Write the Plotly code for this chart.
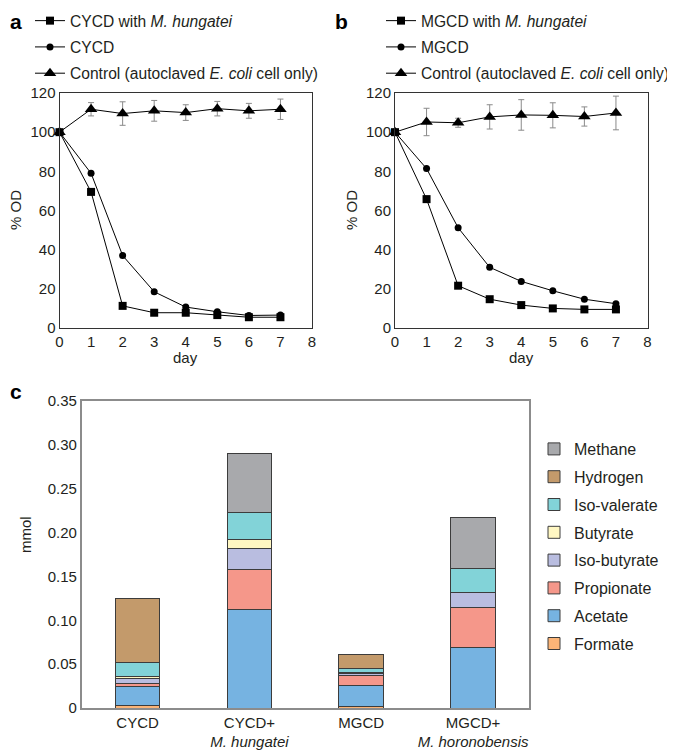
import plotly.graph_objects as go

# panel a / b : % OD over time
days = [0, 1, 2, 3, 4, 5, 6, 7]

a_square = [100, 69.5, 11.3, 7.8, 7.8, 6.6, 5.5, 5.5]
a_square_err = [0, 1.2, 0, 0, 0, 0, 0, 0]
a_circle = [100, 79, 37, 18.5, 10.7, 8.3, 6.4, 6.6]
a_triangle = [100, 111.7, 109.5, 110.9, 110, 112, 110.9, 111.7]
a_triangle_err = [0, 3.4, 6, 5.3, 4, 3.7, 3.8, 5.2]

b_square = [100, 65.8, 21.6, 14.7, 11.7, 10, 9.5, 9.5]
b_square_err = [0, 1.5, 0, 0, 0, 0, 0, 0]
b_circle = [100, 81.4, 51.2, 31, 23.8, 19, 14.7, 12.4]
b_triangle = [100, 105.2, 104.8, 107.8, 108.8, 108.6, 108, 109.8]
b_triangle_err = [0, 7, 2.3, 6.2, 7.8, 6.4, 4.9, 8.6]

a_names = ["CYCD with <i>M. hungatei</i>", "CYCD",
           "Control (autoclaved <i>E. coli</i> cell only)"]
b_names = ["MGCD with <i>M. hungatei</i>", "MGCD",
           "Control (autoclaved <i>E. coli</i> cell only)"]

# panel c : products (mmol), stacked bottom -> top
groups = ["CYCD", "CYCD+<br><i>M. hungatei</i>", "MGCD", "MGCD+<br><i>M. horonobensis</i>"]
products = ["Formate", "Acetate", "Propionate", "Iso-butyrate",
            "Butyrate", "Iso-valerate", "Hydrogen", "Methane"]
formate = [0.003, 0, 0.002, 0]
acetate = [0.0217, 0.1125, 0.024, 0.0695]
propionate = [0.003, 0.045, 0.0115, 0.045]
isobutyrate = [0.0057, 0.024, 0.0022, 0.0172]
butyrate = [0.002, 0.0103, 0.001, 0]
isovalerate = [0.016, 0.031, 0.0045, 0.0273]
hydrogen = [0.073, 0, 0.016, 0]
methane = [0, 0.067, 0, 0.058]
product_values = [formate, acetate, propionate, isobutyrate,
                  butyrate, isovalerate, hydrogen, methane]
product_colors = ["#fbb477", "#76b3e1", "#f5978a", "#b9bde0",
                  "#fff7c2", "#82d3d8", "#c39a6b", "#a8a9ac"]

# the page body adds an 8px margin, so the figure is 8px smaller
# and all positions below are given in page pixels
OFF = 8
W, H = 675 - OFF, 753 - OFF
FONT = "Arial, Liberation Sans, Helvetica, sans-serif"


def px_x(v):
    return (v - OFF) / W


def px_y(v):
    return 1 - (v - OFF) / H


fig = go.Figure()

err_style = dict(type="data", color="#8a8a8a", thickness=1, width=3)


def add_od_traces(xa, ya, legend, names, sq, sq_err, circ, tri, tri_err):
    fig.add_trace(go.Scatter(
        x=days, y=sq, name=names[0], mode="lines+markers",
        xaxis=xa, yaxis=ya, legend=legend, legendgroup=legend + "1",
        line=dict(color="black", width=1),
        marker=dict(symbol="square", size=8, color="black"),
        error_y=dict(array=sq_err, **err_style), cliponaxis=False))
    fig.add_trace(go.Scatter(
        x=days, y=circ, name=names[1], mode="lines+markers",
        xaxis=xa, yaxis=ya, legend=legend, legendgroup=legend + "2",
        line=dict(color="black", width=1),
        marker=dict(symbol="circle", size=7, color="black"), cliponaxis=False))
    fig.add_trace(go.Scatter(
        x=days, y=tri, name=names[2], mode="lines+markers",
        xaxis=xa, yaxis=ya, legend=legend, legendgroup=legend + "3",
        line=dict(color="black", width=1),
        marker=dict(symbol="triangle-up", size=11, color="black"),
        error_y=dict(array=tri_err, **err_style), cliponaxis=False))


add_od_traces("x", "y", "legend", a_names, a_square, a_square_err,
              a_circle, a_triangle, a_triangle_err)
add_od_traces("x2", "y2", "legend2", b_names, b_square, b_square_err,
              b_circle, b_triangle, b_triangle_err)

# stacked bottom -> top, legend listed top -> bottom (Methane first)
for i, (name, vals, col) in enumerate(zip(products, product_values, product_colors)):
    fig.add_trace(go.Bar(
        x=groups, y=vals, name=name, xaxis="x3", yaxis="y3",
        legend="legend3", legendgroup=name, legendrank=100 - i,
        marker=dict(color=col, line=dict(color="#3c3c3c", width=1))))

frame_dark = dict(showline=True, linecolor="#333333", linewidth=1, mirror=True,
                  ticks="", showgrid=False, zeroline=False)
frame_grey = dict(showline=True, linecolor="#8c8c8c", linewidth=1.5, mirror=True,
                  ticks="", showgrid=False, zeroline=False)

od_y = [px_y(328), px_y(93)]
fig.update_layout(
    width=W, height=H,
    margin=dict(l=0, r=0, t=0, b=0, autoexpand=False),
    paper_bgcolor="white", plot_bgcolor="white",
    font=dict(family=FONT, size=15, color="#231f20"),
    barmode="stack", bargap=0.6,
    xaxis=dict(domain=[px_x(59.5), px_x(312)], range=[0, 8], dtick=1,
               anchor="y", **frame_dark),
    yaxis=dict(domain=od_y, range=[0, 120], dtick=20, anchor="x", **frame_dark),
    xaxis2=dict(domain=[px_x(395), px_x(647.5)], range=[0, 8], dtick=1,
                anchor="y2", **frame_dark),
    yaxis2=dict(domain=od_y, range=[0, 120], dtick=20, anchor="x2", **frame_dark),
    xaxis3=dict(domain=[px_x(81.7), px_x(529)], anchor="y3", **frame_grey),
    yaxis3=dict(domain=[px_y(708), px_y(401)], range=[0, 0.35],
                tickvals=[0, 0.05, 0.1, 0.15, 0.2, 0.25, 0.3, 0.35],
                ticktext=["0", "0.05", "0.10", "0.15", "0.20", "0.25", "0.30", "0.35"],
                anchor="x3", **frame_grey),
    legend=dict(x=px_x(30), y=px_y(4), xanchor="left", yanchor="top",
                bgcolor="rgba(0,0,0,0)", tracegroupgap=3, font=dict(size=15.6)),
    legend2=dict(x=px_x(381), y=px_y(4), xanchor="left", yanchor="top",
                 bgcolor="rgba(0,0,0,0)", tracegroupgap=3, font=dict(size=15.6)),
    legend3=dict(x=px_x(534), y=px_y(432), xanchor="left", yanchor="top",
                 bgcolor="rgba(0,0,0,0)", tracegroupgap=4,
                 traceorder="grouped", font=dict(size=16)),
)

# panel letters sit at the very top / left edge of the figure
labels = [("a", 16, 8), ("b", 341, 8), ("c", 16, 378)]
for txt, lx, ly in labels:
    fig.add_annotation(text="<b>%s</b>" % txt, x=px_x(lx), y=px_y(ly),
                       xref="paper", yref="paper", showarrow=False,
                       xanchor="center", yanchor="top",
                       font=dict(size=21, color="black"))

titles = [("% OD", 15, 210, -90), ("% OD", 351, 210, -90),
          ("day", 185, 357, 0), ("day", 521, 357, 0), ("mmol", 25, 535, -90)]
for txt, lx, ly, ang in titles:
    fig.add_annotation(text=txt, x=px_x(lx), y=px_y(ly), xref="paper", yref="paper",
                       showarrow=False, textangle=ang,
                       xanchor="center", yanchor="middle", font=dict(size=15))

fig.write_html("out.html")
